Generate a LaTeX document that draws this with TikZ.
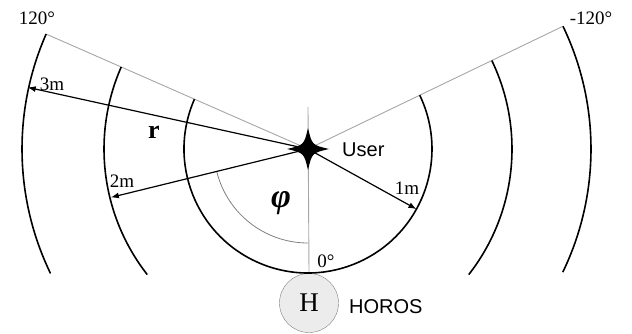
\documentclass[tikz,border=0pt]{standalone}
\usepackage{fontspec}
\setmainfont{Liberation Serif}
\setsansfont{Liberation Sans}
\usetikzlibrary{arrows.meta, calc}

\begin{document}
\begin{tikzpicture}[
    x=1pt, y=1pt,
    ring/.style={line width=1.6pt, black},
    ray/.style={line width=0.9pt, gray!70},
    dist/.style={-{Latex[length=8pt,width=6pt]}, line width=1.2pt},
    lbl/.style={font=\fontsize{19}{22}\selectfont, inner sep=0pt},
    sanslbl/.style={font=\sffamily\fontsize{20}{24}\selectfont, inner sep=0pt, anchor=west}
]
    \useasboundingbox (0,0) rectangle (632,334);

    \coordinate (user) at (308,185);
    \coordinate (left) at ($(user)+(156.3:286)$);
    \coordinate (right) at ($(user)+(25.7:283)$);
    \coordinate (top) at ($(user)+(0,42)$);
    \coordinate (tipthree) at ($(user)+(167.6:287)$);
    \coordinate (tiptwo) at ($(user)+(193.8:203)$);
    \coordinate (tipone) at ($(user)+(-29:124)$);

    \node[circle, draw=gray, fill=gray!15, minimum size=59pt, inner sep=0pt,
          font=\fontsize{27}{30}\selectfont] (horos) at (309,31) {H};

    % boundary rays and 0 degree axis
    \draw[ray] (user) -- (left);
    \draw[ray] (user) -- (right);
    \draw[ray] (top) -- (horos.north);

    % distance rings
    \draw[ring] ($(user)+(156.3:124)$) arc[start angle=156.3, end angle=385.7, radius=124];
    \draw[ring] ($(user)+(156.3:204)$) arc[start angle=156.3, end angle=218, radius=204];
    \draw[ring] ($(user)+(25.7:204)$) arc[start angle=25.7, end angle=-38, radius=204];
    \draw[ring] (left) arc[start angle=156.3, end angle=205.8, radius=286];
    \draw[ring] (right) arc[start angle=25.7, end angle=-25.8, radius=283];

    % angle
    \draw[gray, line width=0.8pt] ($(user)+(193.8:94)$) arc[start angle=193.8, end angle=270, radius=94];

    \draw[dist] (user) -- (tipthree);
    \draw[dist] (user) -- (tiptwo);
    \draw[dist] (user) -- (tipone);

    % user marker
    \fill ($(user)+(0,21)$) .. controls ($(user)+(4,4)$) .. ($(user)+(21,0)$)
        .. controls ($(user)+(4,-4)$) .. ($(user)+(0,-21)$)
        .. controls ($(user)+(-4,-4)$) .. ($(user)+(-21,0)$)
        .. controls ($(user)+(-4,4)$) .. cycle;

    \node[lbl] (degleft) at (37,316) {120°};
    \node[lbl] (degright) at (591,316) {-120°};
    \node[lbl] (three) at (52,250) {3m};
    \node[lbl] (two) at (122,153) {2m};
    \node[lbl] (one) at (407,146) {1m};
    \node[lbl] (zero) at (326,73) {0°};
    \node[font=\fontsize{26}{30}\selectfont\bfseries, inner sep=0pt] (rlbl) at (154,202) {r};
    \node[font=\fontsize{34}{38}\selectfont\bfseries\itshape, inner sep=0pt] (philbl) at (281,131) {φ};
    \node[sanslbl] (userlbl) at (342,184) {User};
    \node[sanslbl] (horoslbl) at (349,27) {HOROS};
\end{tikzpicture}
\end{document}
